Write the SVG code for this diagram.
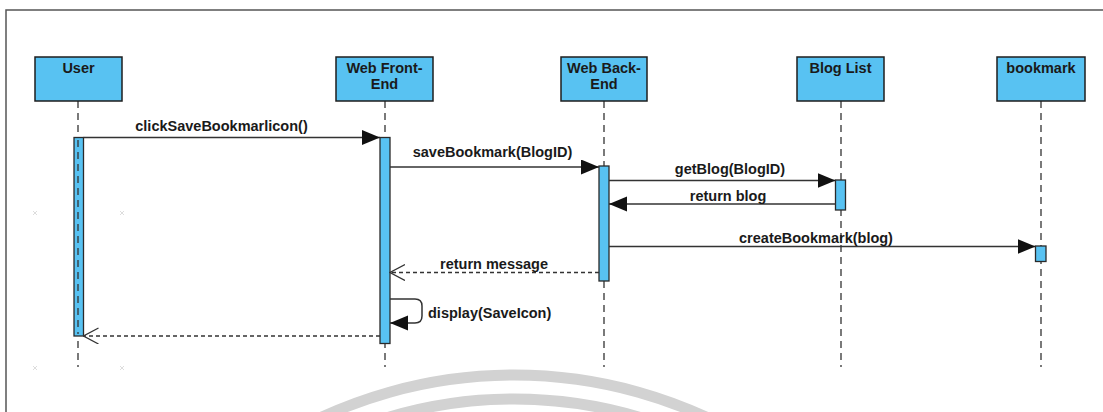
<svg xmlns="http://www.w3.org/2000/svg" width="1103" height="412" viewBox="0 0 1103 412">
  <defs>
    <style>
      .frame { fill: #ffffff; stroke: #555555; stroke-width: 1.5; }
      .head { fill: #58c2f2; stroke: #1e1e1e; stroke-width: 1.5; }
      .act { fill: #58c2f2; stroke: #2a2a2a; stroke-width: 1.3; }
      .life { stroke: #333333; stroke-width: 1.3; stroke-dasharray: 7 5; fill: none; }
      .label { font-family: "Liberation Sans", Arial, sans-serif; font-weight: bold; font-size: 14.5px; fill: #1a1a1a; }
      .msg { stroke: #333333; stroke-width: 1.5; fill: none; }
      .ret { stroke: #333333; stroke-width: 1.3; stroke-dasharray: 4 3; fill: none; }
      .mark { stroke: #dddddd; stroke-width: 1; }
      .wm { stroke: #d2d2d2; stroke-width: 11; fill: none; }
    </style>
    <marker id="filled" markerUnits="userSpaceOnUse" markerWidth="18" markerHeight="16" refX="18" refY="7.5" orient="auto">
      <path d="M0,0 L18,7.5 L0,15 Z" fill="#111111"/>
    </marker>
    <marker id="open" markerUnits="userSpaceOnUse" markerWidth="16" markerHeight="18" refX="15" refY="8" orient="auto">
      <path d="M0,0 L15,8 L0,16" fill="none" stroke="#333333" stroke-width="1.3"/>
    </marker>
  </defs>

  <rect x="0" y="0" width="1103" height="412" fill="#ffffff"/>
  <rect class="frame" x="6" y="10" width="1200" height="500"/>

  <!-- background arcs near the bottom -->
  <path class="wm" d="M278.3,440 A460,460 0 0 1 749.7,440"/>
  <path class="wm" d="M329.4,440 A436,436 0 0 1 698.6,440"/>

  <!-- faint handle marks -->
  <g class="mark">
    <path d="M33,211 L37,215 M37,211 L33,215"/>
    <path d="M120,211 L124,215 M124,211 L120,215"/>
    <path d="M33,366 L37,370 M37,366 L33,370"/>
    <path d="M120,366 L124,370 M124,366 L120,370"/>
  </g>

  <!-- participants -->
  <g id="user">
    <line class="life" x1="78" y1="101" x2="78" y2="367"/>
    <rect class="act" x="74" y="137.5" width="9.5" height="198.5"/>
    <line class="life" x1="78" y1="140" x2="78" y2="334" stroke-width="1"/>
    <rect class="head" x="35" y="57" width="87" height="44"/>
    <text class="label" x="78.5" y="72.5" text-anchor="middle">User</text>
  </g>

  <g id="web-front-end">
    <line class="life" x1="385" y1="101" x2="385" y2="367"/>
    <rect class="act" x="380" y="137.5" width="10" height="206"/>
    <rect class="head" x="336" y="57" width="97" height="44"/>
    <text class="label" x="384.5" y="72.5" text-anchor="middle">Web Front-</text>
    <text class="label" x="384.5" y="88.5" text-anchor="middle">End</text>
  </g>

  <g id="web-back-end">
    <line class="life" x1="604" y1="101" x2="604" y2="367"/>
    <rect class="act" x="599" y="166" width="10" height="115"/>
    <rect class="head" x="561" y="57" width="86" height="44"/>
    <text class="label" x="604" y="72.5" text-anchor="middle">Web Back-</text>
    <text class="label" x="604" y="88.5" text-anchor="middle">End</text>
  </g>

  <g id="blog-list">
    <line class="life" x1="841" y1="101" x2="841" y2="367"/>
    <rect class="act" x="835.5" y="180" width="10" height="30"/>
    <rect class="head" x="797" y="57" width="87" height="44"/>
    <text class="label" x="840.5" y="72.5" text-anchor="middle">Blog List</text>
  </g>

  <g id="bookmark">
    <line class="life" x1="1041" y1="101" x2="1041" y2="367"/>
    <rect class="act" x="1035.5" y="246" width="10.5" height="15.5" fill="#74c6ea"/>
    <rect class="head" x="997" y="57" width="88" height="44"/>
    <text class="label" x="1041" y="72.5" text-anchor="middle">bookmark</text>
  </g>

  <!-- messages -->
  <g id="connectors">
    <line class="msg" x1="83.5" y1="137.5" x2="380" y2="137.5" marker-end="url(#filled)"/>
    <text class="label" x="221.5" y="131" text-anchor="middle">clickSaveBookmarlicon()</text>

    <line class="msg" x1="390" y1="167" x2="599" y2="167" marker-end="url(#filled)"/>
    <text class="label" x="492.5" y="157" text-anchor="middle">saveBookmark(BlogID)</text>

    <line class="msg" x1="609" y1="180.5" x2="835.5" y2="180.5" marker-end="url(#filled)"/>
    <text class="label" x="730" y="174" text-anchor="middle">getBlog(BlogID)</text>

    <line class="msg" x1="835.5" y1="204" x2="609" y2="204" marker-end="url(#filled)"/>
    <text class="label" x="728" y="201" text-anchor="middle">return blog</text>

    <line class="msg" x1="609" y1="246.5" x2="1035.5" y2="246.5" marker-end="url(#filled)"/>
    <text class="label" x="816" y="243" text-anchor="middle">createBookmark(blog)</text>

    <line class="ret" x1="599" y1="272.5" x2="390" y2="272.5" marker-end="url(#open)"/>
    <text class="label" x="494" y="268.5" text-anchor="middle">return message</text>

    <path class="msg" d="M390,299 H415 Q422,299 422,306 V316 Q422,323 415,323 H390" marker-end="url(#filled)"/>
    <text class="label" x="428" y="317.5">display(SaveIcon)</text>

    <line class="ret" x1="380" y1="336" x2="83.5" y2="336" marker-end="url(#open)"/>
  </g>
</svg>
